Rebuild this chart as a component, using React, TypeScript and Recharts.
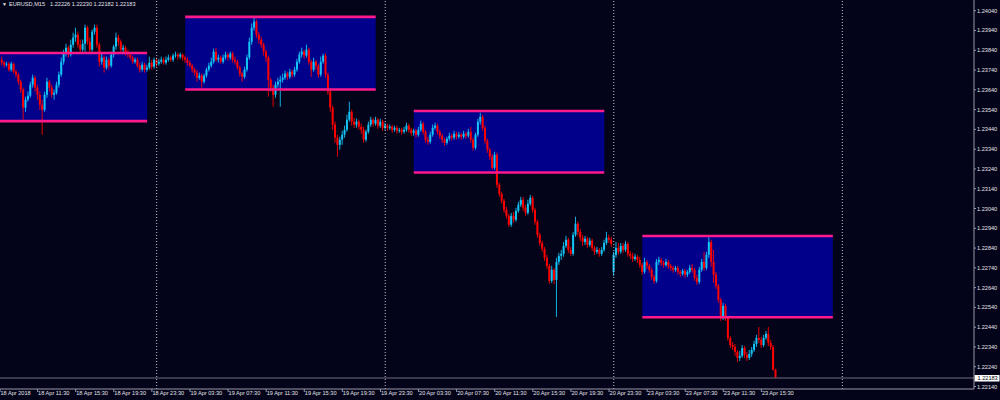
import {
  Bar,
  ComposedChart,
  ReferenceArea,
  ReferenceLine,
  XAxis,
  YAxis,
} from "recharts";

// palette
const BG = "#03031a";
const BULL = "#14c4f4";
const BEAR = "#ff0000";
const BOX_FILL = "#00008b";
const BOX_LINE = "#ff1a8c";
const AXIS = "#9a9aa6";
const INK = "#e4e4e8";
const BID_LINE = "#4c4c5c";
const SEP = "#c4c4cc";
const FONT = "'Liberation Sans', Arial, sans-serif";

// M15 candles [open, high, low, close] in points (1e-5), one array per trading day
const APR18 = [
  [123792,123808,123762,123777],[123777,123787,123752,123767],[123767,123782,123757,123772],[123772,123782,123732,123742],
  [123742,123782,123732,123772],[123772,123777,123722,123732],[123732,123742,123701,123717],[123717,123727,123666,123681],
  [123681,123691,123625,123641],[123641,123651,123489,123550],[123550,123605,123529,123590],[123590,123631,123580,123610],
  [123610,123681,123600,123666],[123666,123717,123651,123701],[123701,123712,123631,123651],[123651,123666,123590,123615],
  [123615,123631,123539,123565],[123565,123590,123413,123539],[123539,123631,123529,123615],[123615,123701,123600,123681],
  [123681,123691,123631,123651],[123651,123666,123600,123615],[123615,123641,123590,123625],[123625,123681,123615,123666],
  [123666,123732,123651,123717],[123717,123803,123706,123782],[123782,123843,123767,123823],[123823,123873,123808,123853],
  [123853,123863,123803,123818],[123818,123894,123808,123868],[123868,123929,123853,123904],[123904,123954,123883,123919],
  [123919,123934,123853,123868],[123868,123894,123828,123843],[123843,123894,123833,123873],[123873,123970,123833,123954],
  [123954,123964,123868,123883],[123883,123904,123828,123843],[123843,123944,123833,123934],[123934,123970,123919,123954],
  [123954,123970,123853,123868],[123868,123878,123757,123782],[123782,123828,123767,123803],[123803,123813,123727,123752],
  [123752,123808,123742,123792],[123792,123803,123742,123762],[123762,123833,123752,123818],[123818,123868,123803,123858],
  [123858,123929,123843,123904],[123904,123919,123863,123883],[123883,123894,123828,123843],[123843,123868,123828,123853],
  [123853,123863,123813,123828],[123828,123843,123803,123818],[123818,123828,123792,123803],[123803,123813,123772,123782],
  [123782,123803,123772,123792],[123792,123803,123752,123762],[123762,123777,123727,123742],[123742,123782,123732,123767],
  [123767,123777,123727,123742],[123742,123767,123732,123752],[123752,123808,123742,123777],[123777,123792,123742,123757],
  [123757,123803,123747,123792],
];

const APR19 = [
  [123792,123803,123757,123772],[123772,123797,123762,123782],[123782,123808,123772,123792],[123792,123803,123767,123777],
  [123777,123808,123767,123792],[123792,123818,123782,123803],[123803,123813,123782,123792],[123792,123823,123782,123813],
  [123813,123833,123803,123818],[123818,123828,123792,123808],[123808,123828,123797,123818],[123818,123823,123787,123803],
  [123803,123813,123777,123792],[123792,123803,123762,123777],[123777,123787,123752,123762],[123762,123772,123727,123742],
  [123742,123752,123712,123727],[123727,123742,123681,123701],[123701,123727,123691,123712],[123712,123722,123651,123681],
  [123681,123722,123671,123712],[123712,123752,123701,123742],[123742,123777,123732,123762],[123762,123803,123752,123782],
  [123782,123848,123772,123833],[123833,123853,123782,123792],[123792,123818,123777,123803],[123803,123813,123772,123782],
  [123782,123818,123772,123803],[123803,123833,123792,123818],[123818,123828,123787,123803],[123803,123833,123792,123823],
  [123823,123833,123777,123792],[123792,123808,123767,123782],[123782,123792,123742,123752],[123752,123762,123706,123722],
  [123722,123732,123681,123706],[123706,123757,123696,123742],[123742,123818,123732,123803],[123803,123904,123792,123883],
  [123883,123975,123868,123954],[123954,124005,123939,123985],[123985,123995,123904,123919],[123919,123934,123873,123894],
  [123894,123909,123853,123868],[123868,123878,123813,123833],[123833,123843,123782,123803],[123803,123813,123605,123691],
  [123691,123701,123631,123651],[123651,123666,123555,123615],[123615,123681,123600,123666],[123666,123701,123651,123681],
  [123681,123712,123555,123691],[123691,123722,123676,123701],[123701,123737,123691,123722],[123722,123732,123691,123706],
  [123706,123747,123696,123732],[123732,123742,123701,123717],[123717,123757,123706,123742],[123742,123797,123732,123782],
  [123782,123833,123772,123818],[123818,123853,123803,123833],[123833,123843,123797,123813],[123813,123868,123803,123843],
  [123843,123853,123767,123782],[123782,123792,123706,123742],[123742,123803,123732,123782],[123782,123792,123742,123762],
  [123762,123772,123701,123717],[123717,123808,123706,123782],[123782,123823,123772,123813],[123813,123823,123701,123717],
  [123717,123727,123615,123631],[123631,123641,123529,123550],[123550,123560,123438,123464],[123464,123479,123372,123398],
  [123398,123413,123302,123362],[123362,123403,123337,123388],[123388,123433,123362,123413],[123413,123459,123398,123438],
  [123438,123514,123428,123489],[123489,123580,123479,123529],[123529,123539,123459,123479],[123479,123499,123448,123464],
  [123464,123494,123448,123479],[123479,123489,123438,123453],[123453,123469,123418,123438],[123438,123453,123372,123388],
  [123388,123438,123377,123428],[123428,123479,123418,123464],[123464,123504,123453,123489],[123489,123499,123453,123469],
  [123469,123504,123459,123489],[123489,123499,123443,123459],[123459,123494,123448,123479],[123479,123489,123433,123448],
];

const APR20 = [
  [123448,123474,123438,123459],[123459,123469,123433,123448],[123448,123464,123438,123453],[123453,123464,123423,123438],
  [123438,123459,123428,123448],[123448,123459,123418,123433],[123433,123448,123423,123438],[123438,123448,123413,123428],
  [123428,123453,123418,123438],[123438,123474,123428,123459],[123459,123469,123423,123438],[123438,123448,123408,123423],
  [123423,123443,123408,123433],[123433,123443,123398,123413],[123413,123453,123403,123438],[123438,123484,123428,123469],
  [123469,123479,123413,123428],[123428,123438,123372,123388],[123388,123403,123362,123377],[123377,123428,123367,123413],
  [123413,123464,123403,123448],[123448,123474,123438,123459],[123459,123469,123413,123428],[123428,123438,123393,123408],
  [123408,123418,123372,123388],[123388,123398,123357,123372],[123372,123403,123362,123393],[123393,123423,123383,123408],
  [123408,123418,123383,123398],[123398,123433,123388,123418],[123418,123428,123388,123403],[123403,123428,123393,123413],
  [123413,123423,123388,123403],[123403,123433,123393,123418],[123418,123428,123393,123408],[123408,123443,123398,123428],
  [123428,123453,123372,123388],[123388,123398,123332,123347],[123347,123423,123337,123413],[123413,123494,123403,123479],
  [123479,123524,123464,123504],[123504,123514,123433,123448],[123448,123459,123367,123383],[123383,123393,123322,123337],
  [123337,123347,123286,123302],[123302,123317,123236,123246],[123246,123327,123236,123312],[123312,123322,123145,123160],
  [123160,123170,123099,123114],[123114,123124,123064,123079],[123079,123089,123018,123033],[123033,123048,122988,123003],
  [123003,123013,122947,122958],[122958,123018,122947,123003],[123003,123023,122968,122983],[122983,123044,122973,123028],
  [123028,123074,123018,123059],[123059,123099,123048,123084],[123084,123099,123028,123044],[123044,123059,123003,123018],
  [123018,123084,123008,123064],[123064,123109,123054,123094],[123094,123104,123018,123033],[123033,123044,122958,122973],
  [122973,122983,122892,122907],[122907,122917,122851,122866],[122866,122877,122821,122836],[122836,122846,122775,122791],
  [122791,122806,122735,122750],[122750,122760,122659,122674],[122674,122750,122664,122730],[122730,122740,122659,122679],
  [122679,122791,122492,122770],[122770,122816,122755,122801],[122801,122831,122780,122811],[122811,122871,122796,122851],
  [122851,122902,122841,122882],[122882,122892,122816,122831],[122831,122846,122801,122811],[122811,122922,122801,122907],
  [122907,122998,122897,122963],[122963,122973,122902,122922],[122922,122937,122877,122892],[122892,122907,122851,122871],
  [122871,122902,122856,122887],[122887,122897,122841,122856],[122856,122892,122846,122877],[122877,122887,122826,122841],
  [122841,122851,122806,122821],[122821,122846,122811,122831],[122831,122841,122796,122811],[122811,122846,122801,122831],
  [122831,122882,122821,122866],[122866,122922,122856,122892],[122892,122907,122866,122882],[122882,122897,122846,122861],
];

const APR23 = [
  [122720,122821,122700,122806],[122806,122871,122791,122841],[122841,122866,122806,122821],[122821,122866,122811,122851],
  [122851,122866,122816,122831],[122831,122877,122821,122861],[122861,122871,122796,122811],[122811,122826,122785,122801],
  [122801,122816,122770,122785],[122785,122811,122775,122796],[122796,122806,122765,122780],[122780,122796,122740,122755],
  [122755,122765,122705,122720],[122720,122791,122710,122770],[122770,122780,122735,122750],[122750,122760,122715,122730],
  [122730,122740,122679,122694],[122694,122705,122659,122674],[122674,122785,122664,122770],[122770,122796,122755,122780],
  [122780,122791,122750,122765],[122765,122775,122740,122755],[122755,122785,122745,122770],[122770,122780,122735,122750],
  [122750,122760,122725,122740],[122740,122750,122715,122730],[122730,122750,122720,122740],[122740,122750,122705,122720],
  [122720,122730,122694,122710],[122710,122735,122700,122725],[122725,122735,122689,122705],[122705,122730,122694,122720],
  [122720,122755,122710,122740],[122740,122760,122715,122730],[122730,122740,122674,122689],[122689,122705,122654,122669],
  [122669,122745,122659,122730],[122730,122785,122720,122770],[122770,122821,122725,122740],[122740,122821,122730,122806],
  [122806,122897,122791,122871],[122871,122882,122745,122770],[122770,122831,122664,122705],[122705,122720,122634,122649],
  [122649,122659,122563,122578],[122578,122588,122472,122487],[122487,122563,122477,122548],[122548,122558,122472,122487],
  [122487,122497,122371,122386],[122386,122396,122335,122350],[122350,122365,122325,122340],[122340,122355,122295,122315],
  [122315,122325,122264,122285],[122285,122320,122269,122295],[122295,122350,122285,122335],[122335,122345,122285,122300],
  [122300,122315,122269,122285],[122285,122325,122274,122305],[122305,122340,122290,122325],[122325,122371,122315,122355],
  [122355,122401,122340,122386],[122386,122441,122360,122376],[122376,122391,122335,122350],[122350,122401,122340,122386],
  [122386,122421,122376,122406],[122406,122441,122345,122360],[122360,122376,122325,122340],[122340,122350,122220,122226],
  [122226,122230,122182,122183],
];

// bar index 0 = 18 Apr 07:45; weekend skipped
const DAY_STARTS = [65, 161, 257, 353];

// 03:00-23:00 session boxes
const BOX_FROM = [-19, 77, 173, 269];
const BOX_TO = [61, 157, 253, 349];
const BOX_HIGH = [1.23826, 1.24009, 1.23533, 1.22901];
const BOX_LOW = [1.23482, 1.23642, 1.23222, 1.2249];

const FIRST_LABEL = "18 Apr 2018";
const TICK_BARS = [15, 31, 47, 63, 79, 95, 111, 127, 143, 159, 175, 191, 207, 223, 239, 255, 271, 287, 303, 319];
const TIME_LABELS = [
  "18 Apr 11:30", "18 Apr 15:30", "18 Apr 19:30", "18 Apr 23:30",
  "19 Apr 03:30", "19 Apr 07:30", "19 Apr 11:30", "19 Apr 15:30", "19 Apr 19:30", "19 Apr 23:30",
  "20 Apr 03:30", "20 Apr 07:30", "20 Apr 11:30", "20 Apr 15:30", "20 Apr 19:30", "20 Apr 23:30",
  "23 Apr 03:30", "23 Apr 07:30", "23 Apr 11:30", "23 Apr 15:30",
];
const PRICE_TICKS = [
  1.2404, 1.2394, 1.2384, 1.2374, 1.2364, 1.2354, 1.2344, 1.2334, 1.2324, 1.2314,
  1.2304, 1.2294, 1.2284, 1.2274, 1.2264, 1.2254, 1.2244, 1.2234, 1.2224, 1.2214,
];
const LAST_PRICE = 1.22183;
const HEADER = ["1.22226", "1.22230", "1.22182", "1.22183"];

const X_MIN = -0.8;
const X_MAX = 408.3;
const Y_MIN = 1.221275;
const Y_MAX = 1.240941;

const data = [...APR18, ...APR19, ...APR20, ...APR23].map(([o, h, l, c], i) => ({
  i,
  o: o / 1e5,
  h: h / 1e5,
  l: l / 1e5,
  c: c / 1e5,
  range: [l / 1e5, h / 1e5],
}));

function Candle(props: any) {
  const { x, y, width, height, payload } = props;
  if (!payload || !height) return null;
  const { o, h, l, c } = payload;
  const cx = x + width / 2;
  const k = height / (h - l);
  const yo = y + (h - o) * k;
  const yc = y + (h - c) * k;
  const color = c >= o ? BULL : BEAR;
  const top = Math.min(yo, yc);
  const bh = Math.max(Math.abs(yc - yo), 0.9);
  return (
    <g>
      <line x1={cx} x2={cx} y1={y} y2={y + height} stroke={color} strokeWidth={0.9} />
      <rect x={cx - 1} y={top} width={2} height={bh} fill={color} />
    </g>
  );
}

function TimeTick(props: any) {
  const { x, y, payload } = props;
  const k = TICK_BARS.indexOf(payload.value);
  const label = k >= 0 ? TIME_LABELS[k] : FIRST_LABEL;
  return (
    <text x={x + 0.5} y={y + 2.5} fill={INK} fontSize={5.6} fontFamily={FONT} textAnchor="start">
      {label}
    </text>
  );
}

function PriceTick(props: any) {
  const { x, y, payload } = props;
  return (
    <text x={x} y={y + 2} fill={INK} fontSize={5.6} fontFamily={FONT} textAnchor="start">
      {payload.value.toFixed(5)}
    </text>
  );
}

function PriceTag(props: any) {
  const vb = props.viewBox || {};
  const left = (vb.x ?? 0) + (vb.width ?? 0);
  const y = vb.y ?? 0;
  return (
    <g>
      <rect x={left + 0.5} y={y - 3} width={25} height={6.5} fill="#ffffff" />
      <text x={left + 3.5} y={y + 2} fill="#000000" fontSize={5.6} fontFamily={FONT}>
        {LAST_PRICE.toFixed(5)}
      </text>
    </g>
  );
}

export default function App() {
  return (
    <div style={{ position: "fixed", left: 0, top: 0, width: 1000, height: 400, background: BG }}>
      <ComposedChart width={1000} height={400} data={data} margin={{ top: 0, right: 0, bottom: 0, left: 0 }}>
        <XAxis
          dataKey="i"
          type="number"
          domain={[X_MIN, X_MAX]}
          allowDataOverflow
          ticks={[X_MIN, ...TICK_BARS]}
          interval={0}
          height={11}
          axisLine={{ stroke: AXIS }}
          tickLine={{ stroke: AXIS }}
          tickSize={3}
          tickMargin={0}
          tick={<TimeTick />}
        />
        <YAxis
          orientation="right"
          type="number"
          domain={[Y_MIN, Y_MAX]}
          allowDataOverflow
          ticks={PRICE_TICKS}
          interval={0}
          width={26}
          axisLine={{ stroke: AXIS }}
          tickLine={{ stroke: AXIS }}
          tickSize={2}
          tickMargin={1}
          tick={<PriceTick />}
        />
        {BOX_FROM.map((x1, k) => (
          <ReferenceArea
            key={`box${k}`}
            x1={x1}
            x2={BOX_TO[k]}
            y1={BOX_LOW[k]}
            y2={BOX_HIGH[k]}
            fill={BOX_FILL}
            fillOpacity={1}
            stroke="none"
            ifOverflow="hidden"
          />
        ))}
        {BOX_FROM.map((x1, k) => (
          <ReferenceLine
            key={`top${k}`}
            segment={[{ x: x1, y: BOX_HIGH[k] }, { x: BOX_TO[k], y: BOX_HIGH[k] }]}
            stroke={BOX_LINE}
            strokeWidth={2.6}
            ifOverflow="hidden"
          />
        ))}
        {BOX_FROM.map((x1, k) => (
          <ReferenceLine
            key={`low${k}`}
            segment={[{ x: x1, y: BOX_LOW[k] }, { x: BOX_TO[k], y: BOX_LOW[k] }]}
            stroke={BOX_LINE}
            strokeWidth={2.6}
            ifOverflow="hidden"
          />
        ))}
        {DAY_STARTS.map((d) => (
          <ReferenceLine key={`day${d}`} x={d} stroke={SEP} strokeDasharray="1 2" strokeWidth={1} />
        ))}
        <ReferenceLine y={LAST_PRICE} stroke={BID_LINE} strokeWidth={1.6} label={<PriceTag />} />
        <Bar dataKey="range" shape={Candle} barSize={2} isAnimationActive={false} />
      </ComposedChart>
      <div
        style={{
          position: "absolute",
          left: 2,
          top: 0,
          fontFamily: FONT,
          fontSize: 5.6,
          lineHeight: "8px",
          color: INK,
          whiteSpace: "pre",
        }}
      >
        <span style={{ fontSize: 5 }}>▼</span>
        <span style={{ marginLeft: 2 }}>EURUSD,M15</span>
        <span style={{ marginLeft: 5 }}>{HEADER.join(" ")}</span>
      </div>
    </div>
  );
}
